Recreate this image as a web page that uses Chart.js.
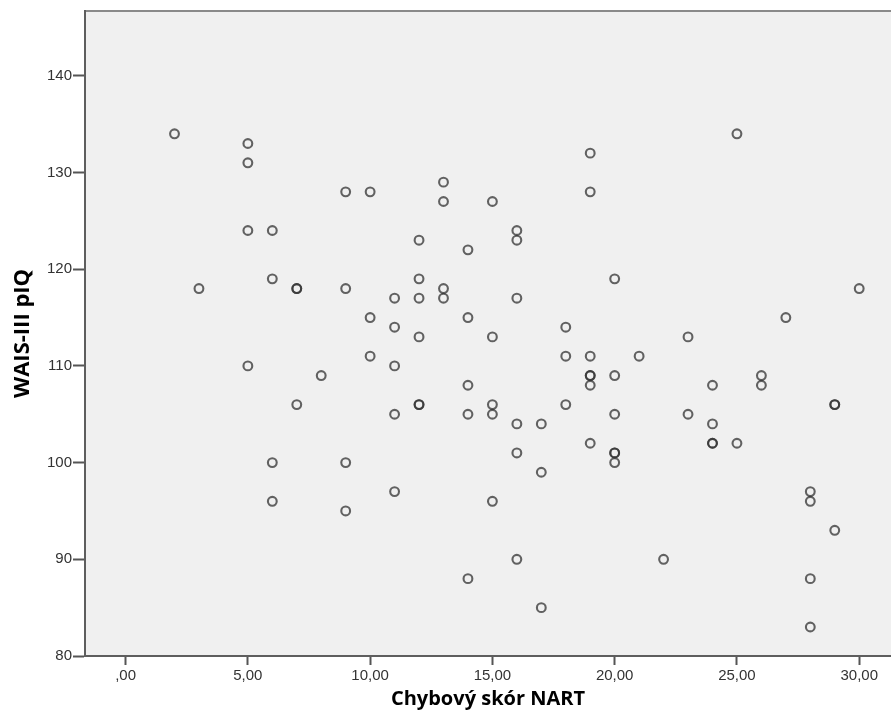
<!DOCTYPE html>
<html>
<head>
<meta charset="utf-8">
<script src="https://cdn.jsdelivr.net/npm/chart.js@4"></script>
<style>
  html, body { margin: 0; padding: 0; background: #ffffff; }
  canvas { display: block; }
</style>
</head>
<body>
<canvas id="scatter" width="891" height="725"></canvas>
<script>
// DATA
const nartScores = [
    2, 3,
    5, 5, 5, 5,
    6, 6, 6, 6,
    7, 7, 7,
    8,
    9, 9, 9, 9,
    10, 10, 10,
    11, 11, 11, 11, 11,
    12, 12, 12, 12, 12, 12,
    13, 13, 13, 13,
    14, 14, 14, 14, 14,
    15, 15, 15, 15, 15,
    16, 16, 16, 16, 16, 16,
    17, 17, 17,
    18, 18, 18,
    19, 19, 19, 19, 19, 19, 19,
    20, 20, 20, 20, 20, 20,
    21, 22,
    23, 23,
    24, 24, 24, 24,
    25, 25,
    26, 26,
    27,
    28, 28, 28, 28,
    29, 29, 29,
    30
];
const piqScores = [
    134, 118,
    133, 131, 124, 110,
    124, 119, 100, 96,
    118, 118, 106,
    109,
    128, 118, 100, 95,
    128, 115, 111,
    117, 114, 110, 105, 97,
    123, 119, 117, 113, 106, 106,
    129, 127, 118, 117,
    122, 115, 108, 105, 88,
    127, 113, 106, 105, 96,
    124, 123, 117, 104, 101, 90,
    104, 99, 85,
    114, 111, 106,
    132, 128, 111, 109, 109, 108, 102,
    119, 109, 105, 101, 101, 100,
    111, 90,
    113, 105,
    108, 104, 102, 102,
    134, 102,
    109, 108,
    115,
    97, 96, 88, 83,
    106, 106, 93,
    118
];
const xTicks = [0, 5, 10, 15, 20, 25, 30];
const yTicks = [80, 90, 100, 110, 120, 130, 140];
const xTitle = "Chybový skór NART";
const yTitle = "WAIS-III pIQ";

const points = nartScores.map((x, i) => ({ x: x, y: piqScores[i] }));

// plot background + top frame line
const plotFrame = {
    id: "plotFrame",
    beforeDraw(chart) {
        const { ctx, chartArea: a } = chart;
        ctx.save();
        ctx.fillStyle = "#f0f0f0";
        ctx.fillRect(a.left, a.top, a.right - a.left, a.bottom - a.top);
        ctx.strokeStyle = "#8a8a8a";
        ctx.lineWidth = 2;
        ctx.beginPath();
        ctx.moveTo(a.left, a.top);
        ctx.lineTo(a.right, a.top);
        ctx.stroke();
        ctx.restore();
    }
};

function commaLabel(v) {
    let s = v.toFixed(2).replace(".", ",");
    if (s.startsWith("0,")) s = s.slice(1);
    return s;
}

const ctx = document.getElementById("scatter").getContext("2d");

new Chart(ctx, {
    type: "scatter",
    data: {
        datasets: [{
            data: points,
            pointStyle: "circle",
            pointRadius: 4.4,
            pointHoverRadius: 4.4,
            pointBorderWidth: 2.1,
            borderColor: "rgba(50,50,50,0.75)",
            backgroundColor: "rgba(0,0,0,0)"
        }]
    },
    options: {
        responsive: false,
        animation: false,
        events: [],
        layout: { autoPadding: false, padding: { left: 0, right: 0, top: 11, bottom: 0 } },
        plugins: {
            legend: { display: false },
            tooltip: { enabled: false }
        },
        scales: {
            x: {
                type: "linear",
                min: -1.66,
                max: 31.3,
                afterBuildTicks: (s) => { s.ticks = xTicks.map(v => ({ value: v })); },
                afterFit: (s) => { s.height = 69; s.paddingLeft = 0; s.paddingRight = 0; },
                border: { display: true, color: "#5e5e5e", width: 2 },
                grid: { drawOnChartArea: false, drawTicks: true, tickLength: 9, tickColor: "#555555", tickWidth: 2 },
                ticks: {
                    padding: 2,
                    color: "#333333",
                    font: { family: "'Liberation Sans', Arial, sans-serif", size: 15 },
                    callback: (v) => commaLabel(v),
                    maxRotation: 0
                },
                title: {
                    display: true,
                    text: xTitle,
                    color: "#000000",
                    font: { family: "'Open Sans', sans-serif", size: 20, weight: "bold" },
                    padding: { top: 0, bottom: 14 }
                }
            },
            y: {
                type: "linear",
                min: 80,
                max: 146.7,
                afterBuildTicks: (s) => { s.ticks = yTicks.map(v => ({ value: v })); },
                afterFit: (s) => { s.width = 85; },
                border: { display: true, color: "#5e5e5e", width: 2 },
                grid: { drawOnChartArea: false, drawTicks: true, tickLength: 12, tickColor: "#555555", tickWidth: 2 },
                ticks: {
                    padding: 1,
                    color: "#333333",
                    font: { family: "'Liberation Sans', Arial, sans-serif", size: 15 }
                },
                title: {
                    display: true,
                    text: yTitle,
                    color: "#000000",
                    font: { family: "'Open Sans', sans-serif", size: 22, weight: "bold" },
                    padding: { top: 10, bottom: 0 }
                }
            }
        }
    },
    plugins: [plotFrame]
});
</script>
</body>
</html>
